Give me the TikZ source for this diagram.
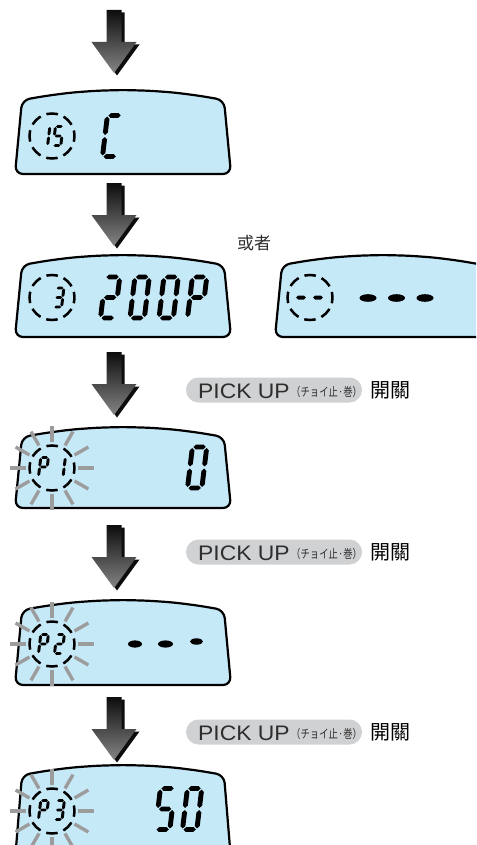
\documentclass[tikz,border=0pt]{standalone}
\usepackage{fontspec}
\usepackage{graphicx}
\setmainfont{Liberation Sans}
\newfontfamily\cjkjp{Noto Sans CJK JP}
\newfontfamily\cjktc{Noto Sans CJK TC}
\newfontfamily\cjksc{Noto Sans CJK SC}
\usetikzlibrary{calc}
\definecolor{lcdblue}{HTML}{C6E9F8}
\definecolor{pillgray}{HTML}{D0D1D3}
\definecolor{raygray}{HTML}{9C9C9C}
\definecolor{txtgray}{HTML}{2E2E2E}
\newcommand\segT{0.12}
\newcommand\segG{0.05}
\newcommand\hseg[3]{\fill ({#1+\segG},#3) -- ({#1+\segG+\segT},{#3+\segT}) -- ({#2-\segG-\segT},{#3+\segT}) -- ({#2-\segG},#3) -- ({#2-\segG-\segT},{#3-\segT}) -- ({#1+\segG+\segT},{#3-\segT}) -- cycle;}
\newcommand\vseg[3]{\fill (#1,{#2+\segG}) -- ({#1+\segT},{#2+\segG+\segT}) -- ({#1+\segT},{#3-\segG-\segT}) -- (#1,{#3-\segG}) -- ({#1-\segT},{#3-\segG-\segT}) -- ({#1-\segT},{#2+\segG+\segT}) -- cycle;}
\newcommand\sega{\hseg{0}{\dw}{2}}
\newcommand\segb{\vseg{\dw}{1}{2}}
\newcommand\segc{\vseg{\dw}{0}{1}}
\newcommand\segd{\hseg{0}{\dw}{0}}
\newcommand\sege{\vseg{0}{0}{1}}
\newcommand\segf{\vseg{0}{1}{2}}
\newcommand\segg{\hseg{0}{\dw}{1}}
% x0, y0 (bottom-left), unit, width, thickness, segments
\newcommand\lcddigit[6]{%
  \begin{scope}[shift={(#1,#2)},yscale=-1,scale=#3,xslant=-0.12]
  \def\dw{#4}\def\segT{#5}%
  \foreach \s in {#6}{\csname seg\s\endcsname}%
  \end{scope}}
\newcommand\bigdigit[3]{\lcddigit{#1}{#2}{20.5}{0.7}{0.12}{#3}}
\newcommand\smalldigit[3]{\lcddigit{#1}{#2}{9.5}{0.8}{0.155}{#3}}
% dx, dy, bottom y (relative to the first display)
\newcommand\lcdframe[3]{%
  \begin{scope}[shift={(#1,#2)}]
  \draw[lcdbody] (123,#3) -- (15,#3) -- (22,100) -- (47,95.7) -- (72,92.5) -- (97,90.7) -- (123,90) -- (149,90.7) -- (174,92.5) -- (199,95.7) -- (224,100) -- (231,#3) -- cycle;
  \end{scope}}
\newcommand\arrowshape{(-7.5,0) -- (7.5,0) -- (7.5,32) -- (22.5,32) -- (0,63) -- (-22.5,32) -- (-7.5,32) -- cycle}
\newcommand\bigarrow[2]{%
  \fill[black!95,shift={({#1+3},{#2+2.5})}] \arrowshape;
  \shade[shift={(#1,#2)},top color=black!95,middle color=black!80,bottom color=black!48] \arrowshape;}
\tikzset{
  lcdbody/.style={fill=lcdblue,draw=black,line width=2.2pt,rounded corners=8pt,line join=round},
  dashcirc/.style={draw=black,line width=2.5pt,dash pattern=on 11.5pt off 6.17pt,dash phase=5.75pt},
  ray/.style={draw=raygray,line width=3.4pt},
  pill/.style={fill=pillgray,rounded corners=12.5pt,minimum width=176pt,minimum height=25pt,inner sep=0pt},
  pick/.style={anchor=base west,inner sep=0pt,text=txtgray,font=\fontsize{21}{21}\selectfont},
  paren/.style={anchor=base west,inner sep=0pt,text=txtgray,font=\cjkjp\fontsize{12}{12}\selectfont},
  kaiguan/.style={anchor=west,inner sep=0pt,text=black,font=\cjktc\fontsize{20}{20}\selectfont},
}
\newcommand\flash[1]{\foreach \a in {0,30,...,330}{\draw[ray] ($(#1)+(\a:26)$) -- ($(#1)+(\a:42)$);}}
\newcommand\pickrow[2]{%
  \node[pill] (pill#2) at (274,#1) {};
  \node[pick] (pick#2) at (198,{#1+8}) {\scalebox{1.09}[1]{PICK UP}};
  \node[paren] (paren#2) at (291,{#1+6}) {\scalebox{0.78}[1]{（チョイ止·巻）}};
  \node[kaiguan] (kg#2) at (370,#1) {開關};}
\begin{document}
\begin{tikzpicture}[x=1pt,y=-1pt]
\clip (0,0) rectangle (476,845);
\fill[white] (0,0) rectangle (476,845);
% arrows
\bigarrow{114}{10}
\bigarrow{114}{183}
\bigarrow{114}{352}
\bigarrow{114}{525}
\bigarrow{114}{697}
% display 1
\lcdframe{0}{0}{174}
\coordinate (c1) at (52,136);
\draw[dashcirc] (c1) circle (22.5);
\smalldigit{40}{145.5}{b,c}
\smalldigit{53.2}{145.5}{a,f,g,c,d}
\bigdigit{102.5}{156.5}{a,f,e,d}
% display 2
\lcdframe{0}{165}{172}
\coordinate (c2) at (52,297.5);
\draw[dashcirc] (c2) circle (22.5);
\smalldigit{54}{307}{a,b,g,c,d}
\bigdigit{100.5}{318}{a,b,g,e,d}
\bigdigit{130}{318}{a,b,c,d,e,f}
\bigdigit{159}{318}{a,b,c,d,e,f}
\bigdigit{187.5}{318}{a,b,f,e,g}
\node[font=\cjksc\fontsize{17}{17}\selectfont,text=txtgray,inner sep=0pt] (or) at (254,243) {或者};
% display 2b
\lcdframe{260}{165}{172}
\coordinate (c2b) at (310,297.5);
\draw[dashcirc] (c2b) circle (22.5);
\foreach \px in {301,318}{\fill (\px-4.8,297.5) -- (\px-3,295.5) -- (\px+3,295.5) -- (\px+4.8,297.5) -- (\px+3,299.5) -- (\px-3,299.5) -- cycle;}
\foreach \px in {368,396.5,425}{\fill (\px,298) ellipse (8.5 and 3.8);}
% label 1
\pickrow{390}{a}
% display 3
\lcdframe{0}{337}{171}
\coordinate (c3) at (52,468);
\flash{c3}
\draw[dashcirc] (c3) circle (22.5);
\smalldigit{38.5}{476.5}{a,b,f,e,g}
\smalldigit{55.5}{476.5}{b,c}
\bigdigit{187.5}{488}{a,b,c,d,e,f}
% label 2
\pickrow{552}{b}
% display 4
\lcdframe{0}{510}{175}
\coordinate (c4) at (52,644);
\flash{c4}
\draw[dashcirc] (c4) circle (22.5);
\smalldigit{38.5}{653.5}{a,b,f,e,g}
\smalldigit{54.5}{653.5}{a,b,g,e,d}
\fill (135,644) ellipse (7 and 3.6);
\fill (165.5,644) ellipse (7.5 and 3.6);
\fill (196.5,641.5) ellipse (6.5 and 3.2);
% label 3
\pickrow{732}{c}
% display 5
\lcdframe{0}{675}{185}
\coordinate (c5) at (52,811);
\flash{c5}
\draw[dashcirc] (c5) circle (22.5);
\smalldigit{38.5}{819.5}{a,b,f,e,g}
\smalldigit{54.5}{819.5}{a,b,g,c,d}
\bigdigit{155.5}{829.5}{a,f,g,c,d}
\bigdigit{182.5}{829.5}{a,b,c,d,e,f}
\end{tikzpicture}
\end{document}
